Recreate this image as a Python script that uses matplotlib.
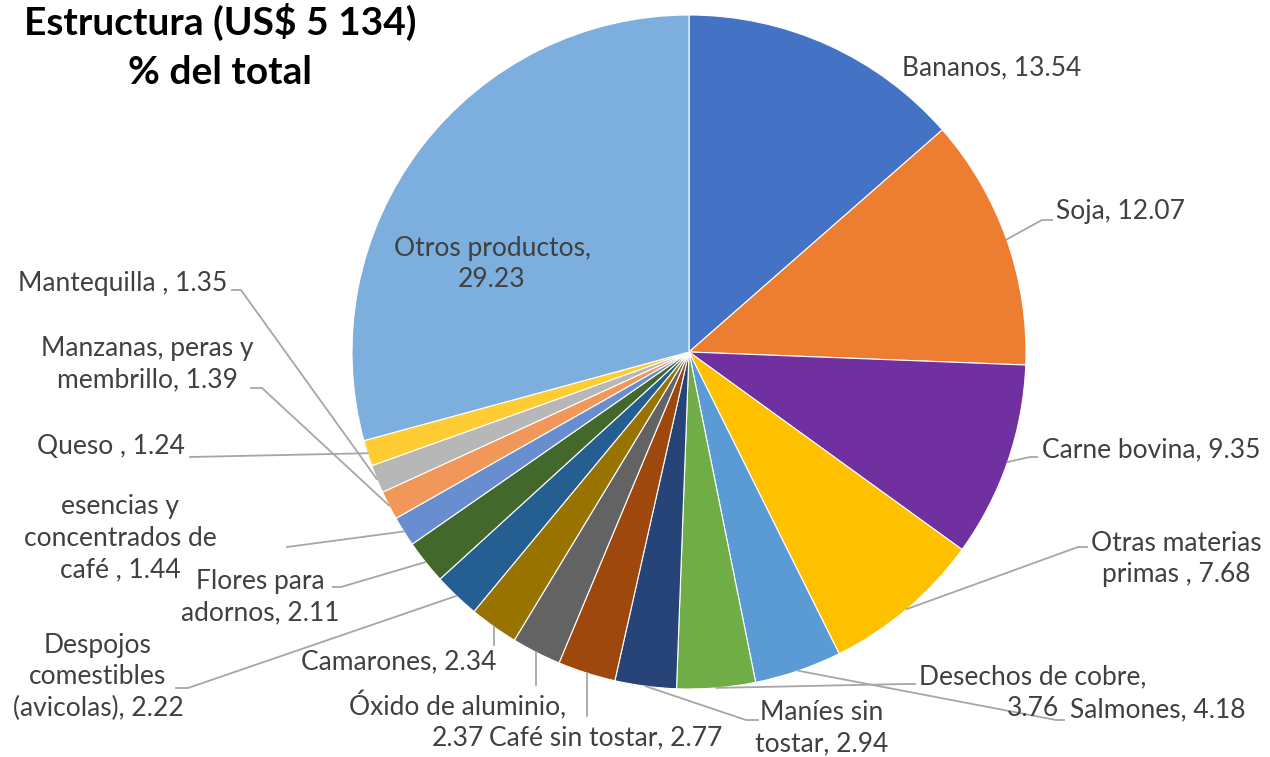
import matplotlib
matplotlib.use('Agg')
import matplotlib.pyplot as plt
import numpy as np

plt.rcParams['font.family'] = ['Lato', 'DejaVu Sans']

# data, in clockwise order from 12 o'clock
products = ["Bananos", "Soja", "Carne bovina", "Otras materias\nprimas ",
            "Salmones", "Desechos de cobre,\n", "Maníes sin\ntostar",
            "Café sin tostar", "Óxido de aluminio,\n", "Camarones",
            "Despojos\ncomestibles\n(avicolas)", "Flores para\nadornos",
            "esencias y\nconcentrados de\ncafé ", "Manzanas, peras y\nmembrillo",
            "Mantequilla ", "Queso ", "Otros productos,\n"]
values = [13.54, 12.07, 9.35, 7.68, 4.18, 3.76, 2.94, 2.77, 2.37, 2.34,
          2.22, 2.11, 1.44, 1.39, 1.35, 1.24, 29.23]
colors = ['#4472C4', '#ED7D31', '#7030A0', '#FFC000', '#5B9BD5', '#70AD47',
          '#264478', '#9E480E', '#636363', '#997300', '#255E91', '#43682B',
          '#698ED0', '#F1975A', '#B7B7B7', '#FFCD33', '#7CAFDD']

# label layout in pixels (y down): text x, text y, ha, leader elbow, leader end
layout = [
    (992, 68, 'center', None, None),
    (1056, 212, 'left', (1042, 220), (1052, 220)),
    (1042, 450, 'left', (1030, 457), (1037, 457)),
    (1176, 559, 'center', (1078, 547), (1087, 547)),
    (1070, 710, 'left', (1056, 720), (1064, 720)),
    (1033, 693, 'center', (905, 684), (915, 684)),
    (822, 728, 'center', (746, 720), (758, 720)),
    (606, 738, 'center', 'v', (587, 716)),
    (458, 721, 'center', 'v', (537, 685)),
    (399, 662, 'center', 'v', (494, 645)),
    (98, 677, 'center', (188, 688), (176, 688)),
    (260, 597, 'center', (341, 587), (333, 587)),
    (120, 538, 'center', (287, 547), (287, 547)),
    (147, 364, 'center', (262, 388), (251, 388)),
    (123, 283, 'center', (241, 290), (232, 290)),
    (111, 447, 'center', (190, 457), (190, 457)),
    (492, 264, 'center', None, None),
]

fig = plt.figure(figsize=(12.7, 7.57), dpi=100)
ax = fig.add_axes([0, 0, 1, 1])

cx, cy, r = 689, -352, 337
wedges, _ = ax.pie(values, colors=colors, startangle=90, counterclock=False,
                   center=(cx, cy), radius=r,
                   wedgeprops=dict(edgecolor='white', linewidth=0.8))
ax.set_xlim(0, 1270)
ax.set_ylim(-757, 0)
ax.set_aspect('equal')
ax.axis('off')

line_col = '#A6A6A6'
text_col = '#404040'

for w, name, v, (tx, ty, ha, elbow, end) in zip(wedges, products, values, layout):
    if name.endswith('\n'):
        label = name + "%.2f" % v
    else:
        label = name + ", %.2f" % v
    ax.text(tx, -ty, label, ha=ha, va='center', multialignment='center',
            fontsize=19, color=text_col, linespacing=1.32, zorder=5)
    if end is None:
        continue
    mid = np.deg2rad((w.theta1 + w.theta2) / 2)
    sx, sy = cx + r * np.cos(mid), cy + r * np.sin(mid)
    if elbow == 'v':
        ax.plot([sx, sx], [sy, -end[1]], color=line_col, lw=1.3, zorder=4)
    else:
        ax.plot([sx, elbow[0], end[0]], [sy, -elbow[1], -end[1]],
                color=line_col, lw=1.3, zorder=4)

fig.text(220 / 1270, 1 - 22 / 757, "Estructura (US$ 5 134)", ha='center', va='center',
         fontsize=28, fontweight='bold', color='black')
fig.text(220 / 1270, 1 - 72 / 757, "% del total", ha='center', va='center',
         fontsize=28, fontweight='bold', color='black')

fig.savefig('out.png', dpi=100)
